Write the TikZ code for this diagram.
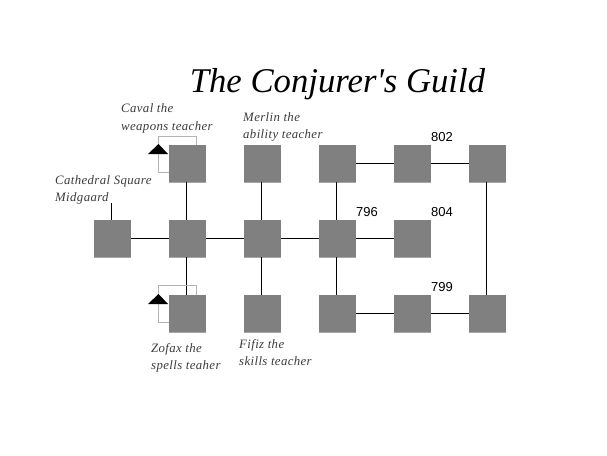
\documentclass[tikz,border=0pt]{standalone}
\usepackage{fontspec}
\setmainfont{Liberation Serif}
\setsansfont{Liberation Sans}
\newfontfamily\labelfont[LetterSpace=3.0]{Liberation Serif Italic}
\newfontfamily\guildfont{Liberation Serif Italic}
\begin{document}
\begin{tikzpicture}[x=1pt,y=-1pt,
  room/.style={fill=roomgray,draw=none,minimum size=37pt,inner sep=0pt,outer sep=0pt},
  roomedge/.style={draw=edgegray,line width=0.7pt},
  link/.style={black,line width=1.15pt},
  loopline/.style={draw=loopgray,line width=0.8pt},
  marker/.style={fill=black,draw=none},
  teacher/.style={font=\labelfont\fontsize{12.8}{17.5}\selectfont,text=textgray,align=left,inner sep=0pt},
  roomno/.style={font=\sffamily\fontsize{13}{15}\selectfont,text=black,inner sep=0pt},
  titletext/.style={font=\guildfont\fontsize{34.7}{40}\selectfont,text=black,inner sep=0pt}]
\definecolor{roomgray}{HTML}{808080}
\definecolor{edgegray}{HTML}{A6A6A6}
\definecolor{loopgray}{HTML}{B4B4B4}
\definecolor{textgray}{HTML}{3C3C3C}
\useasboundingbox (0,0) rectangle (607,455);
\fill[white] (0,0) rectangle (607,455);
% rooms
\node[room] (t1) at (187.5,163.5) {};
\node[room] (t2) at (262.5,163.5) {};
\node[room] (t3) at (337.5,163.5) {};
\node[room] (t4) at (412.5,163.5) {};
\node[room] (t5) at (487.5,163.5) {};
\node[room] (m0) at (112.5,238.5) {};
\node[room] (m1) at (187.5,238.5) {};
\node[room] (m2) at (262.5,238.5) {};
\node[room] (m3) at (337.5,238.5) {};
\node[room] (m4) at (412.5,238.5) {};
\node[room] (b1) at (187.5,313.5) {};
\node[room] (b2) at (262.5,313.5) {};
\node[room] (b3) at (337.5,313.5) {};
\node[room] (b4) at (412.5,313.5) {};
\node[room] (b5) at (487.5,313.5) {};
\foreach \r in {t1,t2,t3,t4,t5,m0,m1,m2,m3,m4,b1,b2,b3,b4,b5}
  \draw[roomedge] (\r.south west) -- (\r.south east);
% horizontal links
\draw[link] (m0) -- (m1);
\draw[link] (m1) -- (m2);
\draw[link] (m2) -- (m3);
\draw[link] (m3) -- (m4);
\draw[link] (t3) -- (t4);
\draw[link] (t4) -- (t5);
\draw[link] (b3) -- (b4);
\draw[link] (b4) -- (b5);
% vertical links
\foreach \u/\v in {t1/m1,m1/b1,t2/m2,m2/b2,t3/m3,m3/b3,t5/b5}
  \draw[link] ([xshift=-1pt]\u.south) -- ([xshift=-1pt]\v.north);
% free stub
\coordinate (stub) at (111.5,203);
\draw[link] (stub) -- (stub |- m0.north);
% self loops with markers
\draw[loopline] ([xshift=9pt]t1.north) |- (158.5,136) |- (t1.west |- 0,172.5);
\fill[marker] (158.5,144) -- (168,154) -- (148,154) -- cycle;
\draw[loopline] ([xshift=9pt]b1.north) |- (158.5,285) |- (b1.west |- 0,322.5);
\fill[marker] (158.5,294) -- (168,304) -- (148,304) -- cycle;
% title
\node[titletext,anchor=base] (title) at (337.5,92) {The Conjurer's Guild};
% labels
\node[teacher,anchor=north west] (caval) at (121,103.5) {Caval the\\weapons teacher};
\node[teacher,anchor=north west] (merlin) at (243,112) {Merlin the\\ability teacher};
\node[teacher,anchor=north west] (cath) at (55,175) {Cathedral Square\\Midgaard};
\node[teacher,anchor=north west] (zofax) at (151,343) {Zofax the\\spells teaher};
\node[teacher,anchor=north west] (fifiz) at (239,339) {Fifiz the\\skills teacher};
\node[roomno,anchor=base west] (n802) at (431,141) {802};
\node[roomno,anchor=base west] (n796) at (356,216) {796};
\node[roomno,anchor=base west] (n804) at (431,216) {804};
\node[roomno,anchor=base west] (n799) at (431,291) {799};
\end{tikzpicture}
\end{document}
